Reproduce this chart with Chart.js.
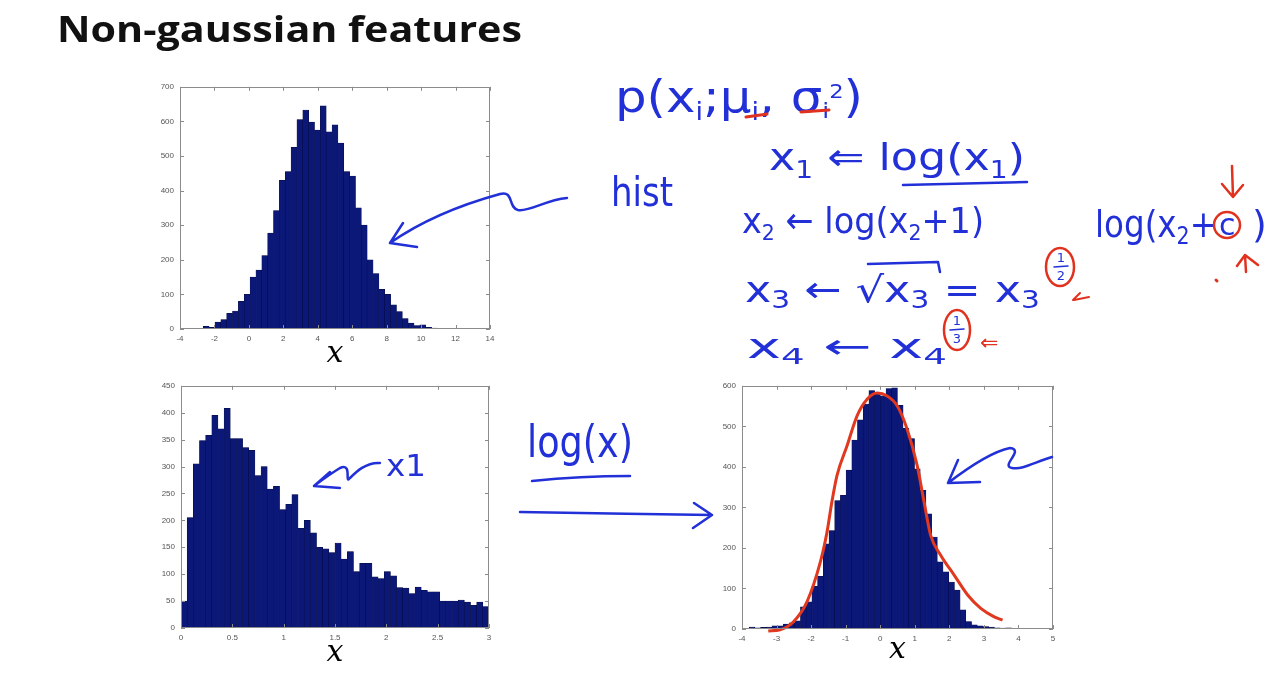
<!DOCTYPE html>
<html>
<head>
<meta charset="utf-8">
<script src="https://cdn.jsdelivr.net/npm/chart.js@4.4.1/dist/chart.umd.min.js"></script>
<style>
html, body { margin: 0; padding: 0; background: #fff; }
#page { position: relative; width: 1280px; height: 674px; overflow: hidden; background: #fff; }
canvas { position: absolute; }
#ink { position: absolute; left: 0; top: 0; pointer-events: none; }
#ink text { font-family: "DejaVu Sans", sans-serif; fill: #2230d8; }
#ink path, #ink ellipse { fill: none; stroke-linecap: round; stroke-linejoin: round; }
</style>
</head>
<body>
<div id="page">
<canvas id="h1"></canvas>
<canvas id="h2"></canvas>
<canvas id="h3"></canvas>

<svg id="ink" width="1280" height="674">
  <text x="57" y="42" font-size="35" font-weight="bold" textLength="465" lengthAdjust="spacingAndGlyphs" style="font-family:'Open Sans',sans-serif;fill:#111">Non-gaussian features</text>

  <!-- handwritten notes -->
  <text x="615" y="112" font-size="44" textLength="248" lengthAdjust="spacingAndGlyphs">p(x<tspan dy="8" font-size="24">i</tspan><tspan dy="-8">;μ</tspan><tspan dy="8" font-size="24">i</tspan><tspan dy="-8">, σ</tspan><tspan dy="6" font-size="22">i</tspan><tspan dy="-20" font-size="20">2</tspan><tspan dy="14">)</tspan></text>
  <path d="M746,117 L767,114 M801,112 L829,110" stroke="#e0321e" stroke-width="3"/>

  <text x="611" y="206" font-size="40" textLength="62" lengthAdjust="spacingAndGlyphs">hist</text>

  <text x="769" y="170" font-size="38" textLength="256" lengthAdjust="spacingAndGlyphs">x<tspan dy="8" font-size="24">1</tspan><tspan dy="-8"> ⇐ log(x</tspan><tspan dy="8" font-size="24">1</tspan><tspan dy="-8">)</tspan></text>
  <path d="M903,185 L1027,182" stroke="#2230d8" stroke-width="2.5"/>

  <text x="742" y="233" font-size="36" textLength="242" lengthAdjust="spacingAndGlyphs">x<tspan dy="7" font-size="22">2</tspan><tspan dy="-7"> ← log(x</tspan><tspan dy="7" font-size="22">2</tspan><tspan dy="-7">+1)</tspan></text>

  <text x="745" y="302" font-size="36" textLength="295" lengthAdjust="spacingAndGlyphs">x<tspan dy="6" font-size="24">3</tspan><tspan dy="-6"> ← √x</tspan><tspan dy="6" font-size="24">3</tspan><tspan dy="-6">  = x</tspan><tspan dy="6" font-size="24">3</tspan></text>
  <path d="M868,264 L938,262 L940,272" stroke="#2230d8" stroke-width="2.5"/>
  <text x="1061" y="262" font-size="13" text-anchor="middle">1</text>
  <path d="M1054,267 L1068,266" stroke="#2230d8" stroke-width="1.5"/>
  <text x="1061" y="280" font-size="13" text-anchor="middle">2</text>
  <ellipse cx="1060" cy="267" rx="14" ry="19" stroke="#e0321e" stroke-width="2.5"/>
  <path d="M1073,300 L1080,293 M1074,300 L1089,297" stroke="#e0321e" stroke-width="2"/>

  <text x="747" y="358" font-size="34" textLength="200" lengthAdjust="spacingAndGlyphs">x<tspan dy="6" font-size="22">4</tspan><tspan dy="-6">   ←     x</tspan><tspan dy="6" font-size="22">4</tspan></text>
  <text x="957" y="325" font-size="13" text-anchor="middle">1</text>
  <path d="M950,330 L964,329" stroke="#2230d8" stroke-width="1.5"/>
  <text x="957" y="343" font-size="13" text-anchor="middle">3</text>
  <ellipse cx="957" cy="330" rx="13" ry="20" stroke="#e0321e" stroke-width="2.5"/>
  <text x="980" y="350" font-size="22" style="fill:#e0321e">⇐</text>

  <text x="1095" y="237" font-size="38" textLength="122" lengthAdjust="spacingAndGlyphs">log(x<tspan dy="7" font-size="24">2</tspan><tspan dy="-7">+</tspan></text>
  <text x="1219" y="235" font-size="30">c</text>
  <text x="1252" y="237" font-size="38">)</text>
  <ellipse cx="1227" cy="225" rx="13" ry="13" stroke="#e0321e" stroke-width="2.5"/>
  <path d="M1232,166 L1233,197 M1222,184 L1233,197 L1243,185" stroke="#e0321e" stroke-width="2.5"/>
  <path d="M1246,272 L1245,255 M1237,266 L1245,255 L1258,265" stroke="#e0321e" stroke-width="2.5"/>
  <path d="M1216,280 L1217,281" stroke="#e0321e" stroke-width="3"/>

  <text x="386" y="476" font-size="30" textLength="40" lengthAdjust="spacingAndGlyphs">x1</text>
  <text x="527" y="457" font-size="44" textLength="106" lengthAdjust="spacingAndGlyphs">log(x)</text>
  <path d="M532,481 Q580,476 630,476" stroke="#2230d8" stroke-width="2.5"/>

  <!-- arrows -->
  <path d="M567,198 C545,200 530,212 518,210 C508,208 514,190 500,194 C460,205 420,222 390,243 M403,223 L390,243 L417,247" stroke="#2230d8" stroke-width="2.5"/>
  <path d="M380,463 C366,462 356,472 350,478 C344,485 353,462 340,468 C330,474 322,480 314,486 M330,472 L314,486 L340,488" stroke="#2230d8" stroke-width="2.5"/>
  <path d="M520,512 C580,513 650,514 712,515 M694,503 L712,515 L693,528" stroke="#2230d8" stroke-width="2.5"/>
  <path d="M1052,457 C1035,462 1022,470 1012,468 C1000,466 1025,450 1010,448 C990,452 965,470 948,483 M958,460 L948,483 L980,482" stroke="#2230d8" stroke-width="2.5"/>
</svg>
</div>

<script>
// histogram of x (roughly gaussian)
const hist1Centers = [-3.84, -3.50, -3.16, -2.82, -2.48, -2.14, -1.80, -1.46, -1.12, -0.78, -0.44, -0.10,
    0.24, 0.58, 0.92, 1.26, 1.60, 1.94, 2.28, 2.62, 2.96, 3.30, 3.64, 3.98,
    4.32, 4.66, 5.00, 5.34, 5.68, 6.02, 6.36, 6.70, 7.04, 7.38, 7.72, 8.06,
    8.40, 8.74, 9.08, 9.42, 9.76, 10.10, 10.44, 10.78, 11.12, 11.46, 11.80, 12.14]
const hist1Counts = [2, 1, 2, 2, 8, 5, 20, 27, 45, 52, 80, 100,
    150, 170, 212, 277, 342, 430, 455, 525, 605, 633, 598, 575,
    645, 570, 590, 537, 455, 442, 350, 300, 200, 160, 115, 100,
    70, 50, 30, 17, 10, 12, 5, 3, 2, 1, 2, 1]

// histogram of skewed x
const hist2Centers = [0.03, 0.09, 0.15, 0.21, 0.27, 0.33, 0.39, 0.45, 0.51, 0.57,
    0.63, 0.69, 0.75, 0.81, 0.87, 0.93, 0.99, 1.05, 1.11, 1.17,
    1.23, 1.29, 1.35, 1.41, 1.47, 1.53, 1.59, 1.65, 1.71, 1.77,
    1.83, 1.89, 1.95, 2.01, 2.07, 2.13, 2.19, 2.25, 2.31, 2.37,
    2.43, 2.49, 2.55, 2.61, 2.67, 2.73, 2.79, 2.85, 2.91, 2.97]
const hist2Counts = [50, 205, 305, 348, 358, 395, 370, 408, 352, 352,
    335, 330, 283, 300, 258, 263, 220, 230, 248, 185,
    200, 177, 150, 147, 140, 158, 128, 142, 105, 120,
    120, 95, 92, 105, 97, 75, 74, 64, 76, 70,
    67, 67, 50, 50, 50, 52, 48, 42, 48, 40]

// histogram after log(x)
const hist3Centers = [-3.71, -3.545, -3.38, -3.215, -3.05, -2.885, -2.72, -2.555, -2.39, -2.225, -2.06, -1.895,
    -1.73, -1.565, -1.40, -1.235, -1.07, -0.905, -0.74, -0.575, -0.41, -0.245, -0.08,
    0.085, 0.25, 0.415, 0.58, 0.745, 0.91, 1.075, 1.24, 1.405, 1.57, 1.735, 1.90,
    2.065, 2.23, 2.395, 2.56, 2.725, 2.89, 3.055, 3.22, 3.385, 3.55, 3.715, 3.88, 4.045]
const hist3Counts = [5, 3, 4, 5, 8, 8, 12, 15, 20, 55, 67, 105,
    130, 210, 243, 317, 330, 392, 466, 516, 555, 588, 582,
    575, 593, 595, 552, 495, 470, 395, 342, 284, 227, 166, 141, 116,
    96, 47, 18, 10, 8, 6, 5, 3, 2, 3, 1, 1]

// hand drawn gaussian over the third histogram
const fitX = [-3.24, -2.90, -2.51, -2.12, -1.73, -1.54, -1.40, -1.25, -0.96, -0.67, -0.38, -0.09,
    0.20, 0.49, 0.78, 1.07, 1.27, 1.46, 1.75, 2.14, 2.53, 2.91, 3.30, 3.54]
const fitY = [-5, -2, 18, 67, 166, 239, 313, 379, 452, 526, 567, 582,
    575, 551, 493, 403, 313, 231, 182, 133, 84, 51, 30, 22]

// matlab style box with inward ticks
const frame = {
    id: 'frame',
    afterDraw(chart) {
        const ctx = chart.ctx
        const a = chart.chartArea
        const sx = chart.scales.x, sy = chart.scales.y
        ctx.save()
        ctx.strokeStyle = '#8c8c8c'
        ctx.lineWidth = 1
        ctx.strokeRect(Math.round(a.left) + 0.5, Math.round(a.top) + 0.5, Math.round(a.width) - 1, Math.round(a.height) - 1)
        ctx.beginPath()
        sx.ticks.forEach(t => {
            const p = Math.round(sx.getPixelForValue(t.value)) + 0.5
            ctx.moveTo(p, a.bottom); ctx.lineTo(p, a.bottom - 4)
            ctx.moveTo(p, a.top); ctx.lineTo(p, a.top + 4)
        })
        sy.ticks.forEach(t => {
            const p = Math.round(sy.getPixelForValue(t.value)) + 0.5
            ctx.moveTo(a.left, p); ctx.lineTo(a.left + 4, p)
            ctx.moveTo(a.right, p); ctx.lineTo(a.right - 4, p)
        })
        ctx.stroke()
        ctx.restore()
    }
}

function histChart(id, box, labelY, centers, counts, xr, yr, extra) {
    const cv = document.getElementById(id)
    const left = box.left - 40, top = box.top - 10
    const bottom = labelY + 13
    cv.width = box.right + 10 - left
    cv.height = bottom - top
    cv.style.left = left + 'px'
    cv.style.top = top + 'px'
    const xH = bottom - box.bottom

    const datasets = [{
        type: 'bar',
        data: centers.map((c, i) => ({x: c, y: counts[i]})),
        backgroundColor: '#0c1878',
        borderColor: '#060b40',
        borderWidth: 0.5,
        barPercentage: 1,
        categoryPercentage: 1,
        order: 2
    }]
    if (extra) datasets.push(extra)

    const tickFont = {family: 'Liberation Sans', size: 8}
    return new Chart(cv, {
        type: 'bar',
        data: {datasets: datasets},
        options: {
            responsive: false,
            animation: false,
            devicePixelRatio: 1,
            layout: {padding: {top: 10, right: 10, left: 0, bottom: 0}},
            plugins: {legend: {display: false}, tooltip: {enabled: false}},
            scales: {
                x: {
                    type: 'linear',
                    min: xr[0], max: xr[1],
                    offset: false,
                    grid: {display: false, drawTicks: false},
                    border: {display: false},
                    ticks: {stepSize: xr[2], autoSkip: false, maxRotation: 0, padding: 5, color: '#555', font: tickFont,
                        callback: v => String(v)},
                    title: {display: true, text: 'x', color: '#000', padding: 0,
                        font: {family: 'DejaVu Serif', style: 'italic', size: 30, lineHeight: 1}},
                    afterFit: s => { s.height = xH }
                },
                y: {
                    min: 0, max: yr[0],
                    grid: {display: false, drawTicks: false},
                    border: {display: false},
                    ticks: {stepSize: yr[1], padding: 6, color: '#555', font: tickFont},
                    afterFit: s => { s.width = 40 }
                }
            }
        },
        plugins: [frame]
    })
}

histChart('h1', {left: 180, top: 86, right: 490, bottom: 329}, 356,
    hist1Centers, hist1Counts, [-4, 14, 2], [700, 100])

histChart('h2', {left: 181, top: 385, right: 489, bottom: 628}, 655,
    hist2Centers, hist2Counts, [0, 3, 0.5], [450, 50])

histChart('h3', {left: 742, top: 385, right: 1053, bottom: 629}, 652,
    hist3Centers, hist3Counts, [-4, 5, 1], [600, 100], {
        type: 'line',
        data: fitX.map((x, i) => ({x: x, y: fitY[i]})),
        borderColor: '#e0391f',
        borderWidth: 3,
        pointRadius: 0,
        cubicInterpolationMode: 'monotone',
        fill: false,
        clip: 8,
        order: 1
    })
</script>
</body>
</html>
